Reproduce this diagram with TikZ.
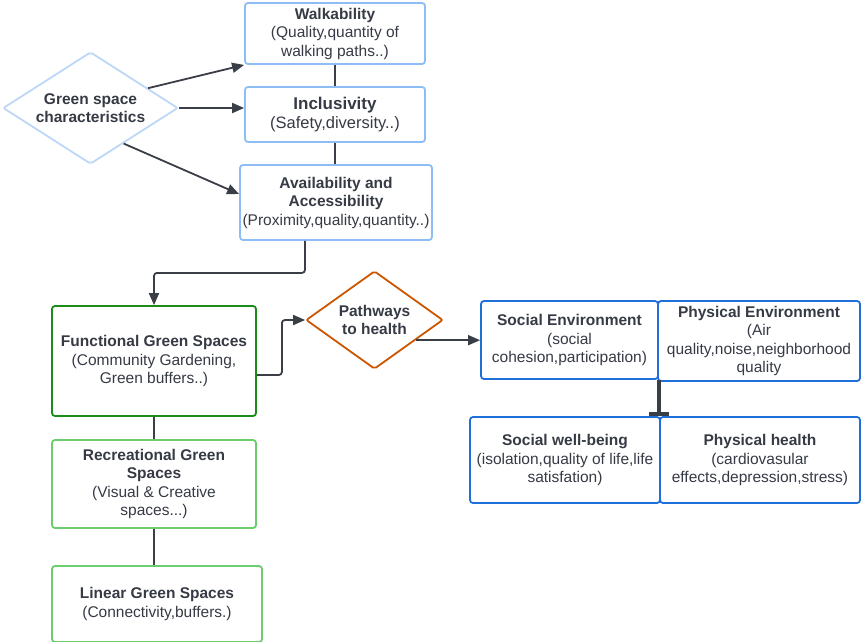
\documentclass[tikz,border=0pt]{standalone}
\usepackage{fontspec}
\setmainfont{Liberation Sans}
\usetikzlibrary{shapes.geometric,arrows.meta,calc}

\definecolor{txtgray}{HTML}{363A44}
\definecolor{linegray}{HTML}{3A3E47}
\definecolor{paleblue}{HTML}{8DBDF5}
\definecolor{lightblue}{HTML}{BCD7F7}
\definecolor{deepblue}{HTML}{1F6FDB}
\definecolor{darkgreen}{HTML}{1A8C1A}
\definecolor{lightgreen}{HTML}{6BCD6B}
\definecolor{rust}{HTML}{CC5500}

\begin{document}
\begin{tikzpicture}[x=1pt,y=-1pt,
    every node/.style={text=txtgray, align=center, font=\fontsize{15.5}{18.5}\selectfont},
    card/.style={draw, rounded corners=3pt, line width=1.8pt, inner sep=0pt},
    choice/.style={draw, diamond, rounded corners=2pt, line width=1.8pt, inner sep=0pt},
    link/.style={draw=linegray, line width=1.8pt},
    arr/.style={link, -{Triangle[length=12pt,width=10pt]}}]
    \useasboundingbox (0,0) rectangle (862,641);

    % Merkmale der Gruenflaechen:
    \node[choice, draw=lightblue, minimum width=175pt, minimum height=112pt, aspect=1.56] (gsc) at (90.5,108) {\textbf{Green space}\\\textbf{characteristics}};
    \node[card, draw=paleblue, minimum width=180pt, minimum height=61pt] (walk) at (335,33.5) {\textbf{Walkability}\\(Quality,quantity of\\walking paths..)};
    \node[card, draw=paleblue, minimum width=180pt, minimum height=55pt] (incl) at (335,114.5) {\textbf{\fontsize{17}{20}\selectfont Inclusivity}\\{\fontsize{16.5}{20}\selectfont(Safety,diversity..)}};
    \node[card, draw=paleblue, minimum width=192pt, minimum height=75pt] (avail) at (336,202.5) {\textbf{Availability and}\\\textbf{Accessibility}\\(Proximity,quality,quantity..)};

    \draw[arr] (gsc.19) -- (walk.south west);
    \draw[arr] (gsc.east) -- (gsc.east -| incl.west);
    \draw[arr] (gsc.-47) -- (avail.175);
    \draw[link] (walk.south) -- (incl.north);
    \draw[link] (incl.south) -- (incl.south |- avail.north);

    % Arten der Gruenflaechen:
    \node[card, draw=darkgreen, minimum width=204pt, minimum height=110pt] (func) at (154,361) {\textbf{Functional Green Spaces}\\(Community Gardening,\\Green buffers..)};
    \node[card, draw=lightgreen, minimum width=204pt, minimum height=88pt] (recr) at (154,484) {\textbf{Recreational Green}\\\textbf{Spaces}\\(Visual \& Creative\\spaces...)};
    \node[card, draw=lightgreen, minimum width=210pt, minimum height=76pt] (lin) at (157,604) {\textbf{Linear Green Spaces}\\(Connectivity,buffers.)};

    \draw[arr, rounded corners=3pt] ($(avail.south)+(-31,0)$) -- ++(0,32) -| (func.north);
    \draw[link] (func.south) -- (recr.north);
    \draw[link] (recr.south) -- (recr.south |- lin.north);

    % Wege zur Gesundheit:
    \node[choice, draw=rust, minimum width=137pt, minimum height=98pt, aspect=1.4] (path) at (374.5,320) {\textbf{Pathways}\\\textbf{to health}};
    \draw[arr, rounded corners=3pt] ($(func.east)+(0,14)$) -- ++(25,0) |- (path.west);

    \node[card, draw=deepblue, minimum width=177pt, minimum height=78pt] (soc) at (569.5,340) {\textbf{Social Environment}\\(social\\cohesion,participation)};
    \node[card, draw=deepblue, minimum width=202pt, minimum height=80pt] (phys) at (759,341) {\textbf{Physical Environment}\\(Air\\quality,noise,neighborhood\\quality};
    \node[card, draw=deepblue, minimum width=190pt, minimum height=86pt] (socwb) at (565,460) {\textbf{Social well-being}\\(isolation,quality of life,life\\satisfation)};
    \node[card, draw=deepblue, minimum width=200pt, minimum height=86pt] (physh) at (760,460) {\textbf{Physical health}\\(cardiovasular\\effects,depression,stress)};

    \draw[arr] (path.-26) -- (path.-26 -| soc.west);
    \draw[link, line width=4pt, -{Bar[width=20pt,line width=4pt]}] (soc.south east) -- (soc.south east |- socwb.north);

\end{tikzpicture}
\end{document}
